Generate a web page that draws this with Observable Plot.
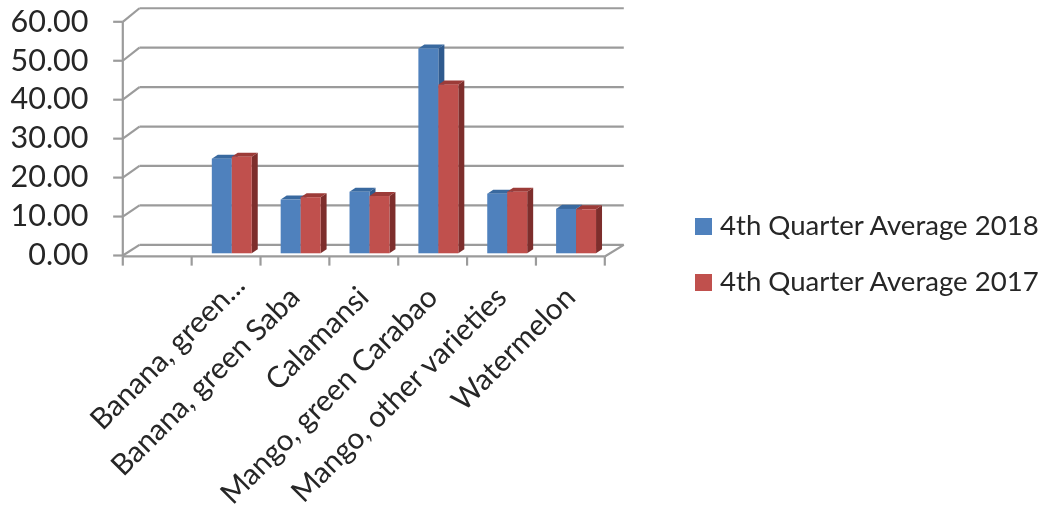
<!DOCTYPE html>
<html>
<head>
<meta charset="utf-8">
<script src="https://cdn.jsdelivr.net/npm/d3@7"></script>
<script src="https://cdn.jsdelivr.net/npm/@observablehq/plot@0.6"></script>
<style>
  html, body { margin: 0; padding: 0; background: #fff; }
  #chart { position: relative; width: 1046px; height: 517px; overflow: hidden; filter: blur(0.6px); }
  #chart svg { display: block; }
  .key { position: absolute; left: 695px; font: 27.6px Lato, sans-serif; color: #262626; white-space: nowrap; }
  .key i { position: absolute; left: 0; width: 17px; height: 17px; }
  .key span { position: absolute; left: 25px; top: -18px; line-height: 32px; }
</style>
</head>
<body>
<div id="chart"></div>
<script>
const categories = ["Banana, green...", "Banana, green Saba", "Calamansi", "Mango, green Carabao", "Mango, other varieties", "Watermelon"];
const avg2018 = [24.3, 13.8, 15.8, 52.6, 15.3, 11.4];
const avg2017 = [24.8, 14.4, 14.7, 43.3, 15.8, 11.3];
const seriesNames = ["4th Quarter Average 2018", "4th Quarter Average 2017"];
const yTicks = [0, 10, 20, 30, 40, 50, 60];
const slots = [0, 1, 2, 3, 4, 5, 6, 7];

// Depth of the pseudo-3D box and of each bar, in scale units
const wallDX = 0.242;
const wallY = v => v * 1.0124 + 2.74;
const barW = 0.29, barStart = 0.3, barDX = 0.087, barDY = 1.03, barBase = 0.44;

const styles = [
  {front: "#4f81bd", side: "#2f5a8e", top: "#39699f"},
  {front: "#c0504d", side: "#7d2e2c", top: "#9c3b38"}
];

const bars = [avg2018, avg2017].flatMap((vals, s) => vals.map((v, i) => {
  const left = i + 1 + barStart + s * barW;
  return {s, i, left, right: left + barW, base: barBase, top: barBase + v, key: `${s}-${i}`};
}));
const sideRows = bars.flatMap(b => [
  {key: b.key, s: b.s, x1: b.right, x2: b.right, y1: b.base, y2: b.top},
  {key: b.key, s: b.s, x1: b.right + barDX, x2: b.right + barDX, y1: b.base + barDY, y2: b.top + barDY}
]);
const topRows = bars.flatMap(b => [
  {key: b.key, s: b.s, x1: b.left, x2: b.right, y1: b.top, y2: b.top},
  {key: b.key, s: b.s, x1: b.left + barDX, x2: b.right + barDX, y1: b.top + barDY, y2: b.top + barDY}
]);

const barMarks = s => [
  Plot.area(sideRows.filter(d => d.s === s), {x1: "x1", x2: "x2", y1: "y1", y2: "y2", z: "key", fill: styles[s].side}),
  Plot.area(topRows.filter(d => d.s === s), {x1: "x1", x2: "x2", y1: "y1", y2: "y2", z: "key", fill: styles[s].top}),
  Plot.rect(bars.filter(d => d.s === s), {x1: "left", x2: "right", y1: "base", y2: "top", fill: styles[s].front})
];

const grey = {stroke: "#9b9b9b", strokeWidth: 2.2};
const catAxis = {
  tickFormat: d => categories[d - 1.5],
  tickRotate: -45, tickSize: 0, tickPadding: 0,
  fontSize: 29.5, fontFamily: "Lato, sans-serif", fill: "#262626", label: null
};

const plot = Plot.plot({
  width: 1046,
  height: 517,
  marginLeft: 88,
  marginBottom: 225,
  marginTop: 0,
  marginRight: 0,
  style: {background: "transparent"},
  x: {domain: [0, 7], range: [122.3, 604.3]},
  y: {domain: [0, 60], range: [255, 21.3]},
  marks: [
    // back wall gridlines
    Plot.link(yTicks, {x1: 0 + wallDX, x2: 7 + wallDX * 1.14, y1: d => wallY(d), y2: d => wallY(d), ...grey}),
    // side wall diagonals
    Plot.link(yTicks, {x1: 0, x2: wallDX, y1: d => d, y2: d => wallY(d), ...grey}),
    // floor
    Plot.link([0], {x1: 0, x2: 7, y1: -0.25, y2: -0.25, ...grey}),
    Plot.link([0], {x1: 7, x2: 7 + wallDX * 1.14, y1: -0.25, y2: wallY(0), ...grey}),
    // front axis and its ticks
    Plot.link([0], {x1: 0, x2: 0, y1: -0.25, y2: 60, ...grey}),
    Plot.link(yTicks, {x1: -0.14, x2: 0, y1: d => d, y2: d => d, ...grey}),
    Plot.link(slots, {x1: d => d, x2: d => d, y1: -0.25, y2: -2.6, ...grey}),
    // bars
    ...barMarks(0),
    ...barMarks(1),
    // axes
    Plot.axisY({
      ticks: yTicks, tickFormat: d => d.toFixed(2), tickSize: 0, tickPadding: 0,
      fontSize: 30.5, fontFamily: "Lato, sans-serif", fill: "#262626", label: null
    }),
    // the truncated first label sits closer to its slot than the others
    Plot.axisX({...catAxis, ticks: [1.5], dx: 14, dy: -12}),
    Plot.axisX({...catAxis, ticks: categories.slice(1).map((_, i) => i + 2.5)})
  ]
});

const root = document.getElementById("chart");
root.appendChild(plot);

[["#4f81bd", 227], ["#c0504d", 283]].forEach(([color, top], i) => {
  const key = document.createElement("div");
  key.className = "key";
  key.style.top = top + "px";
  const sw = document.createElement("i");
  sw.style.background = color;
  sw.style.top = "-9px";
  const label = document.createElement("span");
  label.textContent = seriesNames[i];
  key.append(sw, label);
  root.appendChild(key);
});
</script>
</body>
</html>
